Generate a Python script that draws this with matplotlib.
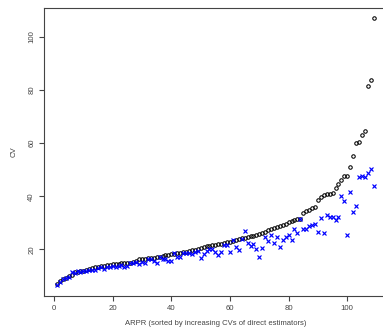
import matplotlib
matplotlib.use("Agg")
import matplotlib.pyplot as plt
import numpy as np

# CV of the direct estimators (sorted increasing)
cv_direct = [
    6.8, 8.2, 8.9, 9.3, 9.8, 10.3, 11.3, 11.6, 11.8, 12.0,
    12.3, 12.6, 12.9, 13.2, 13.4, 13.6, 13.8, 14.0, 14.2, 14.4,
    14.5, 14.6, 14.7, 14.8, 14.9, 15.0, 15.2, 15.6, 16.2, 16.4,
    16.5, 16.6, 16.7, 16.9, 17.1, 17.3, 17.5, 17.7, 17.9, 18.1,
    18.3, 18.5, 18.7, 18.9, 19.1, 19.3, 19.6, 19.9, 20.3, 20.7,
    21.0, 21.2, 21.4, 21.6, 21.8, 22.0, 22.2, 22.4, 22.6, 22.9,
    23.2, 23.5, 23.8, 24.1, 24.4, 24.6, 24.9, 25.1, 25.4, 25.7,
    26.1, 26.6, 27.1, 27.5, 27.9, 28.3, 28.7, 29.1, 29.6, 30.2,
    30.8, 31.0, 31.3, 31.6, 33.6, 34.3, 34.8, 35.4, 35.9, 38.5,
    39.7, 40.6, 40.8, 41.0, 41.2, 43.0, 44.6, 46.1, 47.6, 47.7,
    51.1, 55.2, 60.0, 60.5, 63.0, 64.6, 81.6, 83.7, 107.0,
]

# CV of the model-based estimators, same order
cv_model = [
    6.6, 7.9, 8.8, 9.1, 9.7, 11.3, 11.0, 11.9, 11.3, 12.0,
    11.7, 12.1, 12.4, 12.2, 13.0, 13.2, 12.6, 13.5, 13.3, 13.8,
    13.5, 13.9, 14.2, 13.4, 13.9, 14.7, 14.7, 15.2, 14.4, 15.2,
    14.7, 16.2, 16.2, 15.6, 15.0, 17.0, 16.2, 16.3, 15.7, 15.7,
    18.7, 17.2, 17.0, 18.7, 18.7, 18.7, 18.3, 19.1, 19.4, 16.6,
    18.3, 19.5, 20.0, 20.0, 19.1, 17.9, 19.1, 21.6, 21.6, 19.1,
    23.5, 20.8, 19.8, 23.8, 27.0, 22.5, 21.4, 21.9, 20.1, 17.2,
    20.4, 24.5, 23.3, 25.4, 22.5, 24.8, 21.0, 23.5, 24.8, 25.4,
    23.5, 27.7, 26.0, 31.3, 27.7, 27.7, 28.8, 29.2, 29.4, 26.4,
    31.7, 26.0, 32.9, 32.3, 32.3, 31.0, 32.3, 40.1, 38.2, 25.4,
    41.7, 33.9, 36.3, 47.1, 47.6, 47.3, 48.6, 50.2, 43.9,
]

x_ticks = [0, 20, 40, 60, 80, 100]
y_ticks = [20, 40, 60, 80, 100]

idx = np.arange(1, len(cv_direct) + 1)
grey = "#444444"

plt.rcParams["font.family"] = ["Liberation Sans", "DejaVu Sans"]

fig = plt.figure(figsize=(3.83, 3.32), dpi=100)
ax = fig.add_axes([0.1157, 0.1096, 0.893, 0.8678])

ax.plot(idx, cv_direct, linestyle="none", marker="o", markersize=2.5,
        markerfacecolor="none", markeredgecolor="black", markeredgewidth=0.75)
ax.plot(idx, cv_model, linestyle="none", marker="x", markersize=2.8,
        color="#0000ff", markeredgewidth=0.85)

ax.set_xlim(1 - 0.04 * 108, 109 + 0.04 * 108)
ax.set_ylim(2.6, 111.0)
ax.set_xticks(x_ticks)
ax.set_yticks(y_ticks)
ax.set_yticklabels([str(v) for v in y_ticks], rotation=90, va="center")

for s in ax.spines.values():
    s.set_color(grey)
    s.set_linewidth(0.8)
ax.tick_params(colors=grey, labelcolor=grey, labelsize=5.6, length=3.5, width=0.8,
               direction="out")
ax.tick_params(axis="x", pad=3)
ax.tick_params(axis="y", pad=3)

ax.set_xlabel("ARPR (sorted by increasing CVs of direct estimators)",
              fontsize=5.5, color=grey, labelpad=6)
ax.set_ylabel("CV", fontsize=5.6, color=grey, labelpad=8)

fig.savefig("out.png", dpi=100)
